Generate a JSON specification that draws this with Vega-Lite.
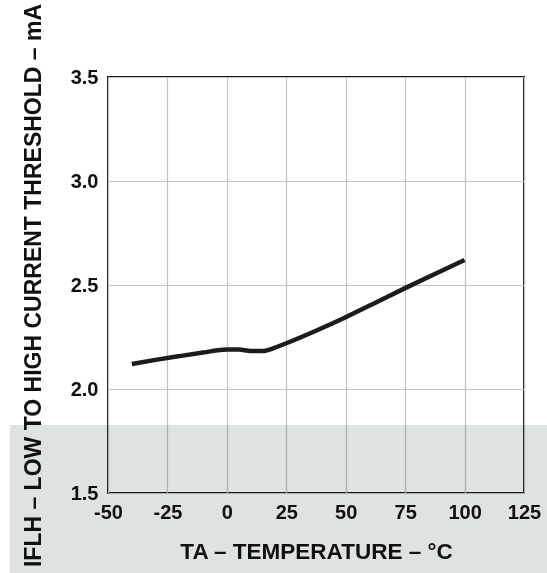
{
  "$schema": "https://vega.github.io/schema/vega-lite/v6.json",
  "width": 416,
  "height": 416,
  "autosize": "none",
  "padding": {"left": 108, "top": 77, "right": 23, "bottom": 80},
  "background": "white",
  "config": {
    "view": {"stroke": "#1a1a1a", "strokeWidth": 2},
    "axis": {
      "grid": true,
      "gridColor": "#c4c4c4",
      "gridWidth": 1.2,
      "domain": false,
      "ticks": false,
      "labelFont": "Liberation Sans",
      "labelFontWeight": "bold",
      "labelFontSize": 20,
      "labelColor": "#111111",
      "labelOverlap": false,
      "labelFlush": false,
      "titleFont": "Liberation Sans",
      "titleFontWeight": "bold",
      "titleColor": "#111111"
    },
    "axisX": {"labelPadding": 9, "titlePadding": 18, "titleFontSize": 22.5},
    "axisY": {"labelPadding": 10, "titlePadding": 25, "titleFontSize": 23}
  },
  "layer": [
    {
      "data": {
        "values": [
          {"temp": -40, "ifl": 2.12},
          {"temp": -30, "ifl": 2.14},
          {"temp": -20, "ifl": 2.158},
          {"temp": -10, "ifl": 2.175},
          {"temp": 0, "ifl": 2.19},
          {"temp": 5, "ifl": 2.19},
          {"temp": 10, "ifl": 2.183},
          {"temp": 15, "ifl": 2.183},
          {"temp": 20, "ifl": 2.198},
          {"temp": 25, "ifl": 2.22},
          {"temp": 37.5, "ifl": 2.28},
          {"temp": 50, "ifl": 2.345},
          {"temp": 62.5, "ifl": 2.415},
          {"temp": 75, "ifl": 2.485},
          {"temp": 87.5, "ifl": 2.553},
          {"temp": 100, "ifl": 2.62}
        ]
      },
      "mark": {"type": "line", "interpolate": "monotone", "color": "#1c1c1c", "strokeWidth": 4.5},
      "encoding": {
        "x": {
          "field": "temp",
          "type": "quantitative",
          "scale": {"domain": [-50, 125], "nice": false, "zero": false},
          "axis": {"values": [-50, -25, 0, 25, 50, 75, 100, 125], "labelExpr": "toString(datum.value)", "title": "TA – TEMPERATURE – °C"}
        },
        "y": {
          "field": "ifl",
          "type": "quantitative",
          "scale": {"domain": [1.5, 3.5], "nice": false, "zero": false},
          "axis": {"values": [1.5, 2.0, 2.5, 3.0, 3.5], "format": ".1f", "title": "IFLH – LOW TO HIGH CURRENT THRESHOLD – mA"}
        }
      }
    },
    {
      "data": {"values": [{}]},
      "mark": {"type": "rect", "color": "#dfe3e0", "blend": "multiply", "opacity": 1},
      "encoding": {
        "x": {"datum": -91.3, "type": "quantitative", "scale": {"domain": [-50, 125], "nice": false, "zero": false}},
        "x2": {"datum": 145},
        "y": {"datum": 1.827, "type": "quantitative", "scale": {"domain": [1.5, 3.5], "nice": false, "zero": false}},
        "y2": {"datum": 1.0}
      }
    }
  ]
}
